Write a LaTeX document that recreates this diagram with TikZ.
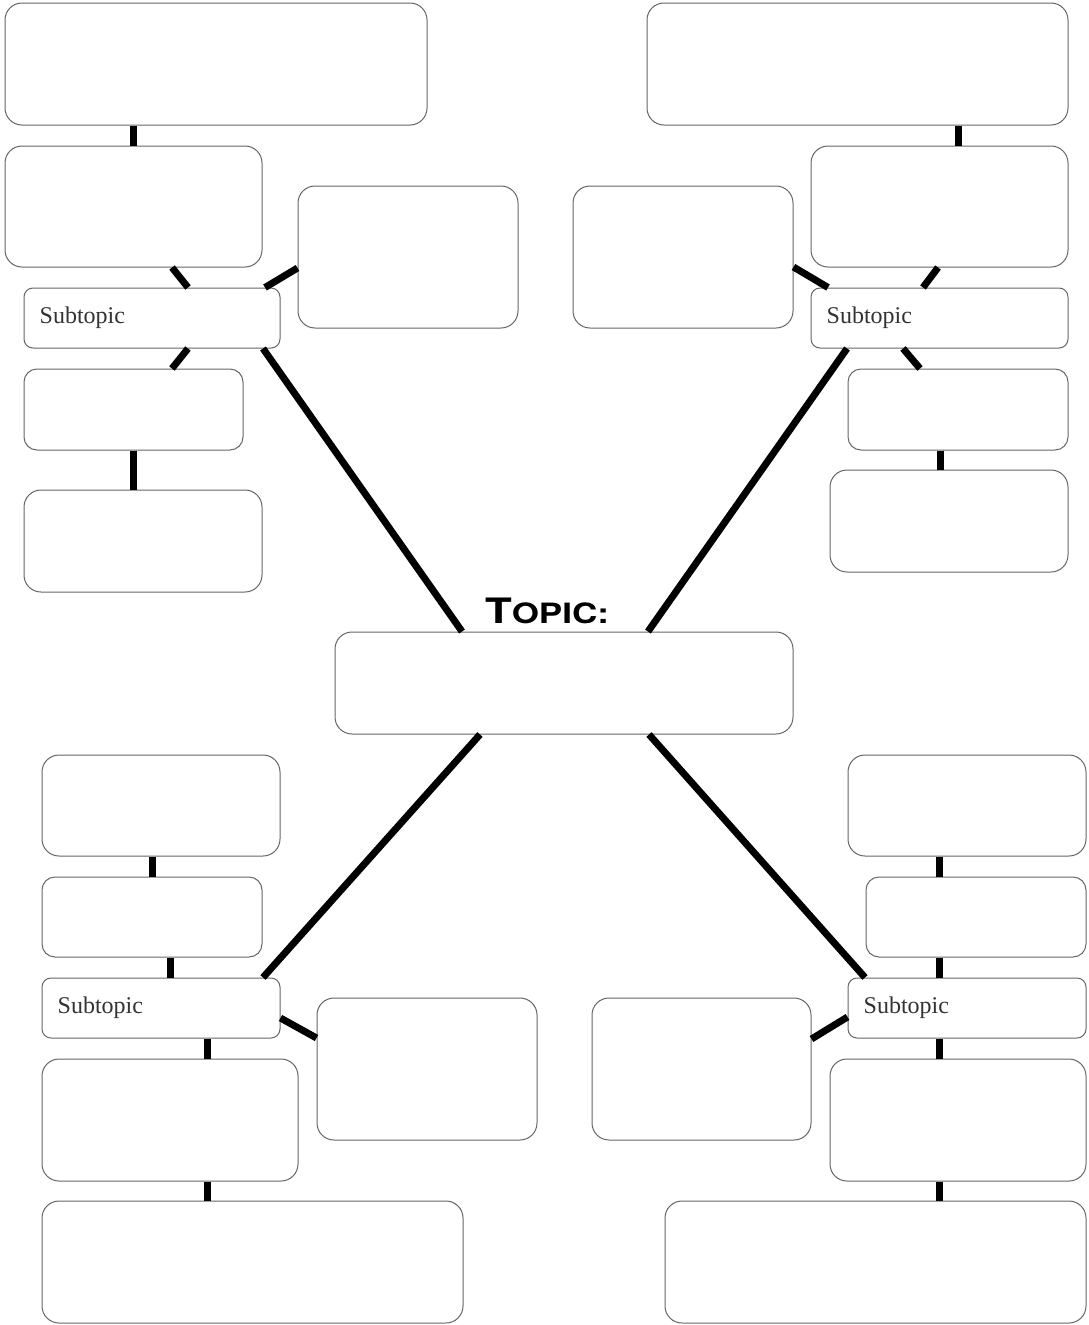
\documentclass[tikz,border=0pt]{standalone}
\usepackage{fontspec}
\setmainfont{Liberation Serif}
\newfontfamily\topicfont{TeX Gyre Heros}
\usetikzlibrary{positioning}
\usetikzlibrary{calc}

\tikzset{
	blank/.style={draw=black!60, line width=1pt, fill=white, rounded corners=17pt, inner sep=0pt},
	subbox/.style={blank, rounded corners=9pt},
	subtext/.style={inner sep=0pt, text=black!80, font=\fontsize{24}{24}\selectfont},
	stub/.style={line width=7pt, black},
	spoke/.style={line width=7pt, black}
}

\begin{document}
\begin{tikzpicture}[x=1pt, y=-1pt]
		\useasboundingbox (0,0) rectangle (1089,1325);
		
		%central topic
		\node[blank, minimum width=458pt, minimum height=102pt] (topic) at (564,683) {};
		\node[inner sep=0pt, above=7pt of topic, xshift=-17pt] (topiclabel)
			{\topicfont\bfseries\scalebox{1.25}[1]{{\fontsize{35}{35}\selectfont T}{\fontsize{28}{28}\selectfont OPIC:}}};
		
		%top left branch
		\node[blank, minimum width=422pt, minimum height=122pt] (tl1) at (216,64) {};
		\node[blank, minimum width=257pt, minimum height=121pt] (tl2) at (133.5,206.5) {};
		\node[blank, minimum width=220pt, minimum height=142pt] (tl3) at (408,257) {};
		\node[subbox, minimum width=256pt, minimum height=60pt] (tlsub) at (152,318) {};
		\node[subtext, right=16pt of tlsub.west] (tltext) {Subtopic};
		\node[blank, rounded corners=13pt, minimum width=219pt, minimum height=81pt] (tl5) at (133.5,409.5) {};
		\node[blank, minimum width=238pt, minimum height=102pt] (tl6) at (143,541) {};
		
		%top right branch
		\node[blank, minimum width=421pt, minimum height=122pt] (tr1) at (857.5,64) {};
		\node[blank, minimum width=257pt, minimum height=121pt] (tr2) at (939.5,206.5) {};
		\node[blank, minimum width=220pt, minimum height=142pt] (tr3) at (683,257) {};
		\node[subbox, minimum width=257pt, minimum height=60pt] (trsub) at (939.5,318) {};
		\node[subtext, right=16pt of trsub.west] (trtext) {Subtopic};
		\node[blank, rounded corners=13pt, minimum width=220pt, minimum height=81pt] (tr5) at (958,409.5) {};
		\node[blank, minimum width=238pt, minimum height=102pt] (tr6) at (949,521) {};
		
		%bottom left branch
		\node[blank, minimum width=238pt, minimum height=101pt] (bl1) at (161,805.5) {};
		\node[blank, rounded corners=13pt, minimum width=220pt, minimum height=80pt] (bl2) at (152,917) {};
		\node[subbox, minimum width=238pt, minimum height=60pt] (blsub) at (161,1008) {};
		\node[subtext, right=16pt of blsub.west] (bltext) {Subtopic};
		\node[blank, minimum width=220pt, minimum height=142pt] (bl4) at (427,1069) {};
		\node[blank, minimum width=256pt, minimum height=122pt] (bl5) at (170,1120) {};
		\node[blank, minimum width=421pt, minimum height=122pt] (bl6) at (252.5,1262) {};
		
		%bottom right branch
		\node[blank, minimum width=238pt, minimum height=101pt] (br1) at (967,805.5) {};
		\node[blank, rounded corners=13pt, minimum width=220pt, minimum height=80pt] (br2) at (976,917) {};
		\node[subbox, minimum width=238pt, minimum height=60pt] (brsub) at (967,1008) {};
		\node[subtext, right=16pt of brsub.west] (brtext) {Subtopic};
		\node[blank, minimum width=219pt, minimum height=142pt] (br4) at (701.5,1069) {};
		\node[blank, minimum width=256pt, minimum height=122pt] (br5) at (958,1120) {};
		\node[blank, minimum width=421pt, minimum height=122pt] (br6) at (875.5,1262) {};
		
		%spokes from the topic
		\draw[spoke] (tlsub.south -| 263,0) -- (topic.north -| 462,0);
		\draw[spoke] (trsub.south -| 847,0) -- (topic.north -| 648,0);
		\draw[spoke] (topic.south -| 480,0) -- (blsub.north -| 263,0);
		\draw[spoke] (topic.south -| 649,0) -- (brsub.north -| 865,0);
		
		%top left stubs
		\draw[stub] (tl1.south -| 133,0) -- (tl2.north -| 133,0);
		\draw[stub] (tl2.south -| 172,0) -- (tlsub.north -| 188,0);
		\draw[stub] (tlsub.north -| 265,0) -- (tl3.west |- 0,268);
		\draw[stub] (tlsub.south -| 188,0) -- (tl5.north -| 172,0);
		\draw[stub] (tl5.south -| 133,0) -- (tl6.north -| 133,0);
		
		%top right stubs
		\draw[stub] (tr1.south -| 958,0) -- (tr2.north -| 958,0);
		\draw[stub] (tr2.south -| 938,0) -- (trsub.north -| 923,0);
		\draw[stub] (tr3.east |- 0,267) -- (trsub.north -| 828,0);
		\draw[stub] (trsub.south -| 903,0) -- (tr5.north -| 920,0);
		\draw[stub] (tr5.south -| 940,0) -- (tr6.north -| 940,0);
		
		%bottom left stubs
		\draw[stub] (bl1.south -| 152,0) -- (bl2.north -| 152,0);
		\draw[stub] (bl2.south -| 170,0) -- (blsub.north -| 170,0);
		\draw[stub] (blsub.east |- 0,1018) -- (bl4.west |- 0,1038);
		\draw[stub] (blsub.south -| 207,0) -- (bl5.north -| 207,0);
		\draw[stub] (bl5.south -| 207,0) -- (bl6.north -| 207,0);
		
		%bottom right stubs
		\draw[stub] (br1.south -| 939,0) -- (br2.north -| 939,0);
		\draw[stub] (br2.south -| 939,0) -- (brsub.north -| 939,0);
		\draw[stub] (brsub.west |- 0,1017) -- (br4.east |- 0,1039);
		\draw[stub] (brsub.south -| 939,0) -- (br5.north -| 939,0);
		\draw[stub] (br5.south -| 939,0) -- (br6.north -| 939,0);
	\end{tikzpicture}
\end{document}
